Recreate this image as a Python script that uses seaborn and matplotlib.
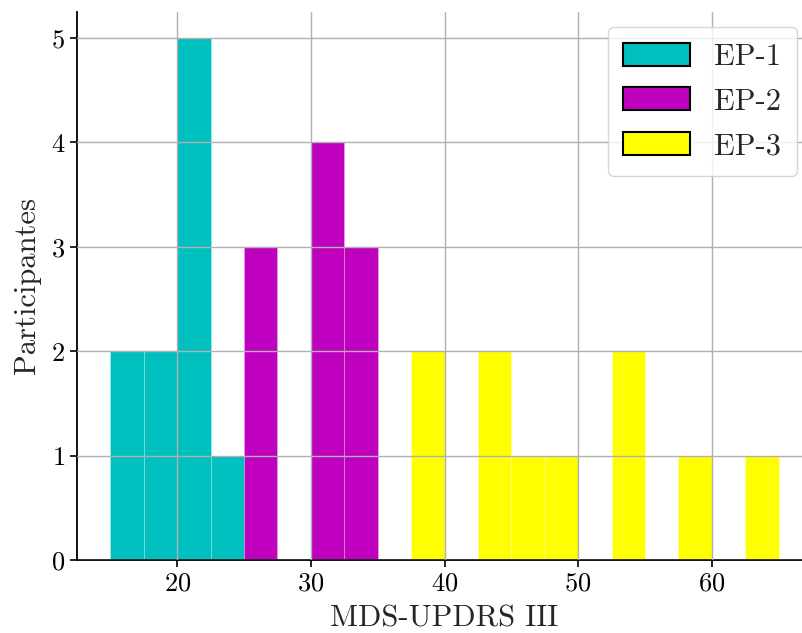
import numpy as np
import pandas as pd
import matplotlib
matplotlib.use("Agg")
import matplotlib.pyplot as plt
from matplotlib.patches import Patch
import seaborn as sns

# Data: bin centers (MDS-UPDRS III, bin width 2.5) and participant counts
ep1_centers = [16.25, 18.75, 21.25, 23.75]
ep1_counts = [2, 2, 5, 1]
ep2_centers = [26.25, 31.25, 33.75]
ep2_counts = [3, 4, 3]
ep3_centers = [38.75, 43.75, 46.25, 48.75, 53.75, 58.75, 63.75]
ep3_counts = [2, 2, 1, 1, 2, 1, 1]
group_labels = ["EP-1", "EP-2", "EP-3"]
group_colors = ["#00bfbf", "#bf00bf", "#ffff00"]

sns.set_style("ticks")
plt.rcParams["font.family"] = ["cmr10", "DejaVu Serif"]
plt.rcParams["axes.formatter.use_mathtext"] = True
plt.rcParams["axes.unicode_minus"] = False

fig = plt.figure(figsize=(8.03, 6.33), dpi=100)
ax = fig.add_axes([77 / 803, 73 / 633, (812 - 77) / 803, (560 - 12) / 633])

for centers, counts, col in zip([ep1_centers, ep2_centers, ep3_centers],
                                [ep1_counts, ep2_counts, ep3_counts],
                                group_colors):
    df = pd.DataFrame({"score": centers, "n": counts})
    sns.histplot(data=df, x="score", weights="n", binwidth=2.5, binrange=(15, 65),
                 color=col, alpha=1.0, edgecolor=(1, 1, 1, 0.25), linewidth=0.6,
                 ax=ax, zorder=1)

ax.set_axisbelow(False)
ax.grid(True, color="#b0b0b0", linewidth=1.0, zorder=3)
ax.set_xlim(12.5, 67.5)
ax.set_ylim(0, 5.25)
ax.set_xticks([20, 30, 40, 50, 60])
ax.set_yticks([0, 1, 2, 3, 4, 5])
ax.tick_params(axis="both", labelsize=19, width=1.2, length=5, colors="black")
for s in ["top", "right"]:
    ax.spines[s].set_visible(False)
for s in ["left", "bottom"]:
    ax.spines[s].set_linewidth(1.3)
    ax.spines[s].set_color("black")
ax.set_xlabel("MDS-UPDRS III", fontsize=22, labelpad=7)
ax.set_ylabel("Participantes", fontsize=22, labelpad=7)

handles = [Patch(facecolor=c, edgecolor="black", linewidth=1.5) for c in group_colors]
leg = ax.legend(handles, group_labels, loc="upper right", fontsize=22,
                frameon=True, fancybox=True, framealpha=0.8, edgecolor="#cccccc",
                handlelength=2.2, handleheight=0.78, handletextpad=0.8,
                labelspacing=0.55, borderpad=0.5, borderaxespad=0.5)
leg.set_zorder(5)

fig.savefig("out.png", dpi=100)
